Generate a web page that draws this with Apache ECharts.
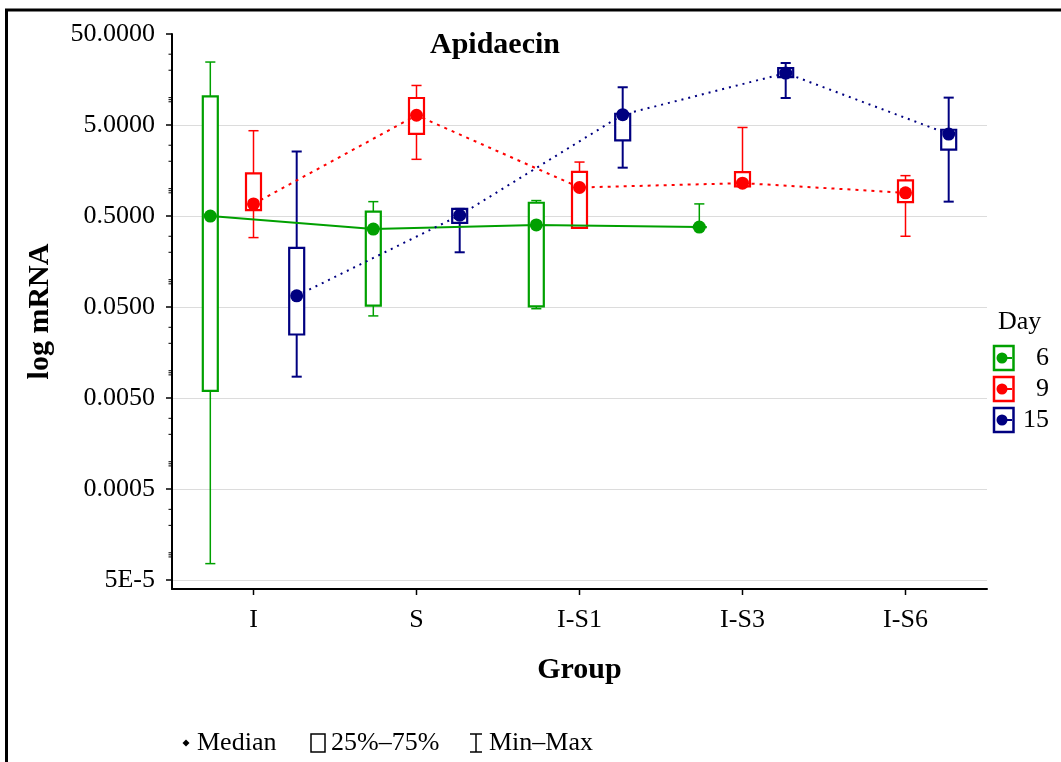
<!DOCTYPE html>
<html>
<head>
<meta charset="utf-8">
<script src="https://cdn.jsdelivr.net/npm/echarts@6/dist/echarts.min.js"></script>
<style>
  html, body { margin: 0; padding: 0; background: #ffffff; }
  #chart { width: 1061px; height: 762px; }
</style>
</head>
<body>
<div id="chart"></div>
<script>
// Groups on the x axis
const categories = ['I', 'S', 'I-S1', 'I-S3', 'I-S6'];

// Day series
const dayNames = ['6', '9', '15'];
const dayColors = ['#00a000', '#ff0000', '#000080'];

// Day 6: min, 25%, median, 75%, max per group (null = no sample)
const day6Min    = [7.6e-5, 0.040, 0.048, 0.378, null];
const day6Q1     = [0.0060, 0.052, 0.051, 0.378, null];
const day6Median = [0.50,   0.36,  0.40,  0.378, null];
const day6Q3     = [10.3,   0.56,  0.70,  0.378, null];
const day6Max    = [24.6,   0.72,  0.74,  0.68,  null];

// Day 9
const day9Min    = [0.29, 2.1,  0.37, 1.06, 0.30];
const day9Q1     = [0.58, 4.0,  0.37, 1.06, 0.71];
const day9Median = [0.68, 6.4,  1.03, 1.15, 0.90];
const day9Q3     = [1.47, 9.9,  1.53, 1.52, 1.23];
const day9Max    = [4.33, 13.6, 1.96, 4.70, 1.39];

// Day 15
const day15Min    = [0.0086, 0.20, 1.70, 9.9,  0.72];
const day15Q1     = [0.025,  0.42, 3.39, 16.8, 2.68];
const day15Median = [0.0665, 0.51, 6.5,  18.6, 3.98];
const day15Q3     = [0.224,  0.60, 6.65, 21.1, 4.44];
const day15Max    = [2.56,   0.60, 13.0, 24.0, 10.0];

// Log axis tick labels
const yTickValues = [5e-5, 5e-4, 5e-3, 0.05, 0.5, 5, 50];
const yTickLabels = ['5E-5', '0.0005', '0.0050', '0.0500', '0.5000', '5.0000', '50.0000'];
const yMinValue = 4e-5;
const yMaxValue = 50;

// Minor tick multipliers within each decade
const minorMultipliers = [3, 2, 1, 0.95, 0.9];
const minorDecades = [1e-4, 1e-3, 1e-2, 1e-1, 1, 10];

const dayStats = [
  [day6Min, day6Q1, day6Median, day6Q3, day6Max],
  [day9Min, day9Q1, day9Median, day9Q3, day9Max],
  [day15Min, day15Q1, day15Median, day15Q3, day15Max]
];
const dayOffsets = [-0.265, 0, 0.265];
const dayLineTypes = ['solid', [3, 5], [2, 5]];
const dayWhiskerWidths = [1.5, 1.5, 2];

// Values are plotted as log10(v / 5) so the labelled ticks fall on integers
const toAxis = v => Math.log10(v / 5);

const FONT = 'Liberation Serif';

const chart = echarts.init(document.getElementById('chart'), null, { renderer: 'canvas' });

function renderBox(params, api) {
  const x = api.value(0);
  const pMin = api.coord([x, api.value(1)]);
  const pQ1 = api.coord([x, api.value(2)]);
  const pQ3 = api.coord([x, api.value(3)]);
  const pMax = api.coord([x, api.value(4)]);
  const band = api.size([1, 0])[0];
  const boxW = band * 0.092;
  const capW = band * 0.062;
  const color = api.visual('color');
  const lw = dayWhiskerWidths[params.seriesIndex] || 1.5;
  return {
    type: 'group',
    children: [
      { type: 'line', shape: { x1: pMax[0], y1: pMax[1], x2: pMin[0], y2: pMin[1] },
        style: { stroke: color, lineWidth: lw } },
      { type: 'line', shape: { x1: pMax[0] - capW / 2, y1: pMax[1], x2: pMax[0] + capW / 2, y2: pMax[1] },
        style: { stroke: color, lineWidth: lw } },
      { type: 'line', shape: { x1: pMin[0] - capW / 2, y1: pMin[1], x2: pMin[0] + capW / 2, y2: pMin[1] },
        style: { stroke: color, lineWidth: lw } },
      { type: 'rect', shape: { x: pQ3[0] - boxW / 2, y: pQ3[1], width: boxW, height: pQ1[1] - pQ3[1] },
        style: { fill: '#ffffff', stroke: color, lineWidth: 2.2 } }
    ]
  };
}

// Short outward tick mark on the left axis
function renderMinorTick(params, api) {
  const p = api.coord([api.value(0), api.value(1)]);
  return {
    type: 'line',
    shape: { x1: p[0] - 3.5, y1: p[1], x2: p[0], y2: p[1] },
    style: { stroke: '#000000', lineWidth: 1 }
  };
}

// Downward tick mark under each group on the bottom axis
function renderGroupTick(params, api) {
  const p = api.coord([api.value(0), api.value(1)]);
  return {
    type: 'line',
    shape: { x1: p[0], y1: p[1], x2: p[0], y2: p[1] + 6 },
    style: { stroke: '#000000', lineWidth: 1.5 }
  };
}

const series = [];
dayStats.forEach((stats, d) => {
  const [mins, q1s, meds, q3s, maxs] = stats;
  const boxData = [];
  categories.forEach((c, i) => {
    if (meds[i] == null) return;
    boxData.push([i + dayOffsets[d], toAxis(mins[i]), toAxis(q1s[i]), toAxis(q3s[i]), toAxis(maxs[i])]);
  });
  series.push({
    type: 'custom',
    name: dayNames[d],
    xAxisIndex: 1,
    yAxisIndex: 0,
    renderItem: renderBox,
    itemStyle: { color: dayColors[d] },
    encode: { x: 0, y: [1, 2, 3, 4] },
    data: boxData,
    z: 2,
    silent: true
  });
});
dayStats.forEach((stats, d) => {
  const meds = stats[2];
  const lineData = [];
  categories.forEach((c, i) => {
    if (meds[i] == null) return;
    lineData.push([i + dayOffsets[d], toAxis(meds[i])]);
  });
  series.push({
    type: 'line',
    name: dayNames[d] + ' median',
    xAxisIndex: 1,
    yAxisIndex: 0,
    data: lineData,
    symbol: 'circle',
    symbolSize: 13,
    itemStyle: { color: dayColors[d] },
    lineStyle: { color: dayColors[d], width: 2, type: dayLineTypes[d] },
    z: 3,
    silent: true,
    animation: false
  });
});

// Minor ticks on the log axis
const minorTickData = [];
minorDecades.forEach(dec => {
  minorMultipliers.forEach(m => {
    const v = m * dec;
    if (v > yMinValue && v < yMaxValue) minorTickData.push([-0.5, toAxis(v)]);
  });
});
series.push({
  type: 'custom',
  xAxisIndex: 1,
  yAxisIndex: 0,
  renderItem: renderMinorTick,
  data: minorTickData,
  clip: false,
  silent: true,
  z: 1
});

// Group ticks on the bottom axis
series.push({
  type: 'custom',
  xAxisIndex: 1,
  yAxisIndex: 0,
  renderItem: renderGroupTick,
  data: categories.map((c, i) => [i, toAxis(yMinValue)]),
  clip: false,
  silent: true,
  z: 1
});

// Right-hand legend (Day)
const legendRows = [358, 389, 420];
const legendGraphics = [
  { type: 'text', left: 998, top: 309,
    style: { text: 'Day', font: '26px "' + FONT + '"', fill: '#000' } }
];
dayNames.forEach((name, d) => {
  const cy = legendRows[d];
  legendGraphics.push(
    { type: 'rect', shape: { x: 994, y: cy - 12, width: 19.5, height: 24 },
      style: { fill: '#fff', stroke: dayColors[d], lineWidth: 2.5 } },
    { type: 'line', shape: { x1: 1002, y1: cy, x2: 1012, y2: cy },
      style: { stroke: dayColors[d], lineWidth: 2 } },
    { type: 'circle', shape: { cx: 1002, cy: cy, r: 5.5 },
      style: { fill: dayColors[d] } },
    { type: 'text', x: 1049, y: cy,
      style: { text: name, font: '26px "' + FONT + '"', fill: '#000', align: 'right', verticalAlign: 'middle' } }
  );
});

// Bottom legend (Median / 25%–75% / Min–Max)
const ly = 743;
const bottomLegend = [
  { type: 'polygon', shape: { points: [[186, ly - 3.5], [189.5, ly], [186, ly + 3.5], [182.5, ly]] },
    style: { fill: '#000' } },
  { type: 'text', x: 197, y: ly,
    style: { text: 'Median', font: '26px "' + FONT + '"', fill: '#000', verticalAlign: 'middle' } },
  { type: 'rect', shape: { x: 311, y: ly - 9, width: 14, height: 18 },
    style: { fill: '#fff', stroke: '#000', lineWidth: 1.5 } },
  { type: 'text', x: 331, y: ly,
    style: { text: '25%–75%', font: '26px "' + FONT + '"', fill: '#000', verticalAlign: 'middle' } },
  { type: 'line', shape: { x1: 476, y1: ly - 9, x2: 476, y2: ly + 9 }, style: { stroke: '#000', lineWidth: 1.5 } },
  { type: 'line', shape: { x1: 470, y1: ly - 9, x2: 482, y2: ly - 9 }, style: { stroke: '#000', lineWidth: 1.5 } },
  { type: 'line', shape: { x1: 470, y1: ly + 9, x2: 482, y2: ly + 9 }, style: { stroke: '#000', lineWidth: 1.5 } },
  { type: 'text', x: 489, y: ly,
    style: { text: 'Min–Max', font: '26px "' + FONT + '"', fill: '#000', verticalAlign: 'middle' } }
];

// Outer frame
const frame = [
  { type: 'rect', shape: { x: 6.5, y: 10, width: 1200, height: 900 },
    style: { fill: 'none', stroke: '#000', lineWidth: 3 }, z: 0 }
];

const option = {
  animation: false,
  backgroundColor: '#ffffff',
  title: {
    text: 'Apidaecin',
    left: 430,
    top: 30,
    padding: 0,
    textStyle: { fontFamily: FONT, fontSize: 30, fontWeight: 'bold', color: '#000' }
  },
  grid: { left: 172, right: 74, top: 34, bottom: 173 },
  xAxis: [
    {
      type: 'category',
      data: categories,
      boundaryGap: true,
      name: 'Group',
      nameLocation: 'middle',
      nameGap: 66,
      nameTextStyle: { fontFamily: FONT, fontSize: 30, fontWeight: 'bold', color: '#000' },
      axisLine: { onZero: false, lineStyle: { color: '#000', width: 2 } },
      axisTick: { show: false },
      axisLabel: { margin: 18, fontFamily: FONT, fontSize: 26, color: '#000' },
      splitLine: { show: false }
    },
    {
      type: 'value',
      min: -0.5,
      max: 4.5,
      show: false,
      axisLine: { onZero: false },
      splitLine: { show: false }
    }
  ],
  yAxis: {
    type: 'value',
    min: toAxis(yMinValue),
    max: toAxis(yMaxValue),
    splitNumber: 6,
    name: 'log mRNA',
    nameLocation: 'middle',
    nameRotate: 90,
    nameGap: 117,
    nameTextStyle: { fontFamily: FONT, fontSize: 30, fontWeight: 'bold', color: '#000' },
    axisLine: { show: true, onZero: false, lineStyle: { color: '#000', width: 2 } },
    axisTick: { show: true, length: 6, lineStyle: { color: '#000', width: 1.5 } },
    axisLabel: {
      margin: 17,
      fontFamily: FONT,
      fontSize: 26,
      color: '#000',
      showMinLabel: false,
      formatter: function (val) {
        const i = yTickValues.findIndex(v => Math.abs(toAxis(v) - val) < 1e-6);
        return i >= 0 ? yTickLabels[i] : '';
      }
    },
    splitLine: { show: true, showMinLine: false, showMaxLine: false, lineStyle: { color: '#dcdcdc', width: 1.2 } }
  },
  graphic: frame.concat(legendGraphics, bottomLegend),
  series: series
};

chart.setOption(option);
</script>
</body>
</html>
